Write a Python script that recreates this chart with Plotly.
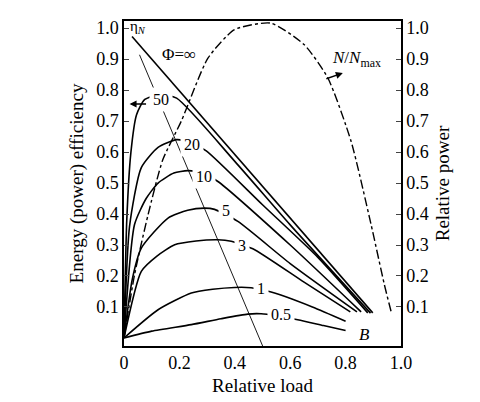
import plotly.graph_objects as go

# Efficiency curves (relative load x, efficiency y) per Phi value
phi_inf_x = [0.029, 0.898]
phi_inf_y = [0.973, 0.081]
c50_x = [0, 0.01, 0.025, 0.045, 0.075, 0.13, 0.19, 0.4, 0.6, 0.89]
c50_y = [0, 0.38, 0.6, 0.72, 0.77, 0.785, 0.774, 0.57, 0.365, 0.08]
c20_x = [0, 0.02, 0.0625, 0.123, 0.19, 0.24, 0.297, 0.5, 0.7, 0.88]
c20_y = [0, 0.36, 0.55, 0.615, 0.64, 0.632, 0.604, 0.43, 0.26, 0.081]
c10_x = [0, 0.038, 0.08, 0.123, 0.18, 0.23, 0.28, 0.339, 0.6, 0.856]
c10_y = [0, 0.366, 0.45, 0.5, 0.532, 0.54, 0.533, 0.505, 0.3, 0.084]
c5_x = [0, 0.03, 0.0625, 0.159, 0.23, 0.29, 0.327, 0.411, 0.6, 0.841]
c5_y = [0, 0.19, 0.29, 0.387, 0.412, 0.419, 0.415, 0.376, 0.24, 0.084]
c3_x = [0, 0.0625, 0.12, 0.183, 0.26, 0.339, 0.387, 0.465, 0.65, 0.817]
c3_y = [0, 0.215, 0.265, 0.301, 0.313, 0.317, 0.312, 0.288, 0.18, 0.084]
c1_x = [0, 0.123, 0.243, 0.32, 0.399, 0.459, 0.531, 0.68, 0.80]
c1_y = [0, 0.091, 0.145, 0.157, 0.163, 0.162, 0.148, 0.1, 0.054]
c05_x = [0, 0.1, 0.243, 0.35, 0.447, 0.495, 0.627, 0.72, 0.80]
c05_y = [0, 0.022, 0.043, 0.062, 0.077, 0.078, 0.059, 0.04, 0.024]
labels = ["50", "20", "10", "5", "3", "1", "0.5"]
label_x = [0.135, 0.245, 0.29, 0.37, 0.425, 0.495, 0.565]
label_y = [0.77, 0.625, 0.52, 0.41, 0.3, 0.16, 0.075]
# eta_N locus
locus_x = [0.056, 0.501]
locus_y = [0.914, -0.027]
# relative power N/Nmax
pow_x = [0, 0.038, 0.087, 0.14, 0.207, 0.303, 0.399, 0.53, 0.651, 0.736, 0.82, 0.892, 0.94, 0.964]
pow_y = [0, 0.204, 0.398, 0.575, 0.70, 0.903, 0.995, 1.016, 0.946, 0.839, 0.634, 0.366, 0.172, 0.086]

serif = "Liberation Serif"
fig = go.Figure()
ln = dict(color="black", width=1.6, shape="spline", smoothing=0.6)
for xs, ys in [(phi_inf_x, phi_inf_y), (c50_x, c50_y), (c20_x, c20_y), (c10_x, c10_y),
               (c5_x, c5_y), (c3_x, c3_y), (c1_x, c1_y), (c05_x, c05_y)]:
    fig.add_trace(go.Scatter(x=xs, y=ys, mode="lines", line=ln, showlegend=False))
fig.add_trace(go.Scatter(x=locus_x, y=locus_y, mode="lines", line=dict(color="black", width=0.9), showlegend=False))
fig.add_trace(go.Scatter(x=pow_x, y=pow_y, mode="lines", yaxis="y2",
                         line=dict(color="black", width=1.4, dash="dashdot", shape="spline", smoothing=0.6), showlegend=False))

for t, x, y in zip(labels, label_x, label_y):
    fig.add_annotation(x=x, y=y, text=t, showarrow=False, bgcolor="white", borderpad=3,
                       font=dict(family=serif, size=16, color="black"))
fig.add_annotation(x=0.05, y=1.005, text="η<sub><i>N</i></sub>", showarrow=False, font=dict(family=serif, size=15, color="black"))
fig.add_annotation(x=0.2, y=0.915, text="Φ=∞", showarrow=False, font=dict(family=serif, size=17, color="black"))
fig.add_annotation(x=0.84, y=0.9, text="<i>N</i>/<i>N</i><sub>max</sub>", showarrow=False, font=dict(family=serif, size=17, color="black"))
fig.add_annotation(x=0.87, y=0.01, text="<i>B</i>", showarrow=False, font=dict(family=serif, size=17, color="black"))
fig.add_annotation(x=0.02, y=0.755, ax=0.085, ay=0.755, axref="x", ayref="y", text="", showarrow=True,
                   arrowhead=2, arrowsize=1, arrowwidth=1.4, arrowcolor="black")
fig.add_annotation(x=0.79, y=0.855, ax=0.725, ay=0.835, axref="x", ayref="y", text="", showarrow=True,
                   arrowhead=2, arrowsize=1, arrowwidth=1.4, arrowcolor="black")

tickv = [0.1, 0.2, 0.3, 0.4, 0.5, 0.6, 0.7, 0.8, 0.9, 1.0]
tickt = ["0.1", "0.2", "0.3", "0.4", "0.5", "0.6", "0.7", "0.8", "0.9", "1.0"]
axfont = dict(family=serif, size=18, color="black")
common = dict(range=[-0.026, 1.023], tickvals=tickv, ticktext=tickt, ticks="inside", ticklen=5,
              showgrid=False, zeroline=False, showline=True, linecolor="black", linewidth=1.5,
              tickfont=axfont)
fig.update_layout(
    width=480, height=402, plot_bgcolor="white", paper_bgcolor="white",
    margin=dict(l=116, r=87, t=13, b=64, autoexpand=False),
    xaxis=dict(range=[0, 1.0], tickvals=[0, 0.2, 0.4, 0.6, 0.8, 1.0], ticktext=["0", "0.2", "0.4", "0.6", "0.8", "1.0"],
               ticks="", showgrid=False, zeroline=False, showline=True, linecolor="black", linewidth=1.5,
               mirror=True, tickfont=axfont,
               title=dict(text="Relative load", font=dict(family=serif, size=19, color="black"), standoff=6)),
    yaxis=dict(common, title=dict(text="Energy (power) efficiency", font=dict(family=serif, size=19, color="black"), standoff=8)),
    yaxis2=dict(common, overlaying="y", side="right",
                title=dict(text="Relative power", font=dict(family=serif, size=19, color="black"), standoff=8)),
)
fig.write_html("out.html")
